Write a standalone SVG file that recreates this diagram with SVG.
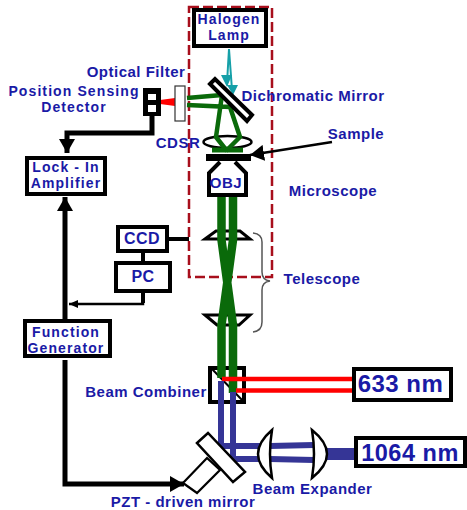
<svg xmlns="http://www.w3.org/2000/svg" width="467" height="510" viewBox="0 0 467 510">
<style>
.t{font-family:"Liberation Sans",Arial,sans-serif;font-weight:bold;fill:#1a1aa6;font-size:15px;letter-spacing:.5px;text-anchor:middle}
.two{font-size:14px;letter-spacing:1.1px}
.big{font-size:24px;letter-spacing:.5px}
.box{fill:#fff;stroke:#000;stroke-width:4}
.g{fill:none;stroke:#0a6a0a}
.r{stroke:#f00;stroke-width:4.5;fill:none}
.b{fill:none;stroke:#353596;stroke-width:6}
.k{fill:none;stroke:#000}
.l{fill:#fff;stroke:#000;stroke-width:2.5}
</style>
<defs>
<marker id="ah" markerUnits="userSpaceOnUse" markerWidth="16" markerHeight="16" refX="14" refY="8" orient="auto"><path d="M0,0L14,8L0,16Z" fill="#000"/></marker>
<marker id="as" markerUnits="userSpaceOnUse" markerWidth="10" markerHeight="10" refX="9" refY="5" orient="auto"><path d="M0,1L9,5L0,9Z" fill="#000"/></marker>
</defs>
<g id="microscope-frame"><rect x="189" y="7" width="83" height="270" fill="none" stroke="#a80f1c" stroke-width="2.5" stroke-dasharray="10 4"/></g>
<g id="cdsr"><ellipse cx="227.500" cy="142" rx="24" ry="6" fill="none" stroke="#000" stroke-width="2.500"/><text class="t" x="178" y="148">CDSR</text></g>
<g id="telescope-lens-1"><path d="M205,239L216,231H240L250,239Z" fill="#fff" stroke="#000" stroke-width="3"/></g>
<g id="telescope-lens-2"><path d="M205,315L217,325H239L250,315Z" fill="#fff" stroke="#000" stroke-width="3"/></g>
<g id="beam-combiner"><rect x="210" y="368" width="34" height="34" fill="#fff" stroke="#000" stroke-width="4"/><path class="k" stroke-width="2" d="M212,369L243,401"/><text class="t" x="146" y="397">Beam Combiner</text></g>
<g id="connectors">
<path class="k" stroke-width="5" d="M152,114V133H67V153" marker-end="url(#ah)"/>
<path class="k" stroke-width="5" d="M65,320V197" marker-end="url(#ah)"/>
<path class="k" stroke-width="5" d="M65,360V484H184" marker-end="url(#ah)"/>
<path class="k" stroke-width="4" d="M143,293V303"/>
<path class="k" stroke-width="2.500" d="M143,303V304H69" marker-end="url(#as)"/>
<path class="k" stroke-width="4" d="M143,253V261M169,239H189"/>
<path class="k" stroke-width="2.500" d="M332,142L250,155" marker-end="url(#ah)"/>
<path d="M229,49L227,83M229,49L232,90" fill="none" stroke="#16a0a8" stroke-width="2"/>
<path d="M221,75L227,87L232,75ZM227,85L233,95L238,85Z" fill="#16a0a8"/>
<path class="g" stroke-width="4.500" d="M187,98L222,95L216,137L227,151M187,105L230,107L240,137L226,151"/>
<path class="g" stroke-width="5" d="M212,150H243"/>
<path class="g" stroke-width="8.500" d="M221.500,195V240L233,325V393M233,195V240L221.500,325V378"/>
<path class="r" d="M222,379H354M236,390.500H354"/>
<path d="M160,100L175,98V106L160,104Z" fill="#f00"/>
<path class="b" d="M221,381V446H262M233,392V459H262"/>
<path class="b" d="M270,446L314,445M270,459L314,460"/>
<path fill="none" stroke="#353596" stroke-width="12" d="M325,454H356"/>
<path fill="none" stroke="#555" stroke-width="1.500" d="M253,233Q262,234 262,242V272Q262,280 270,281Q262,282 262,290V322Q262,331 253,332"/>
</g>
<g id="halogen-lamp"><rect class="box" x="194" y="10" width="72" height="36"/><text class="t two" x="229" y="23.500">Halogen</text><text class="t two" x="229" y="40">Lamp</text></g>
<g id="dichromatic-mirror"><path d="M210,84L215,79L252,115L247,121Z" fill="#fff" stroke="#000" stroke-width="4"/><text class="t" x="313" y="101">Dichromatic Mirror</text></g>
<g id="optical-filter"><rect x="175" y="86" width="10" height="35" fill="#fff" stroke="#333" stroke-width="1.200"/><text class="t" x="136" y="77">Optical Filter</text></g>
<g id="detector"><rect x="143" y="88" width="18" height="28" fill="#000"/><rect x="148" y="94" width="8" height="6" fill="#fff"/><rect x="148" y="105" width="8" height="7" fill="#fff"/><text class="t two" x="74" y="95.500">Position Sensing</text><text class="t two" x="74" y="112">Detector</text></g>
<g id="sample"><rect x="206" y="154" width="45" height="7" fill="#000"/><text class="t" x="356" y="139">Sample</text></g>
<g id="objective"><path d="M220,162L209,173V195H246V173L235,162" fill="#fff" stroke="#000" stroke-width="4"/><text class="t" x="226" y="188">OBJ</text></g>
<g id="lock-in"><rect class="box" x="27" y="158" width="78" height="36"/><text class="t two" x="66" y="171.500">Lock - In</text><text class="t two" x="66" y="188">Amplifier</text></g>
<g id="ccd"><rect class="box" x="118" y="227" width="49" height="24"/><text class="t" x="142" y="244" style="font-size:16px">CCD</text></g>
<g id="pc"><rect class="box" x="116" y="263" width="54" height="28"/><text class="t" x="143" y="282" style="font-size:16px">PC</text></g>
<g id="function-generator"><rect class="box" x="25" y="321" width="85" height="35"/><text class="t two" x="66" y="336.500">Function</text><text class="t two" x="66" y="353">Generator</text></g>
<g id="telescope-label"><text class="t" x="322" y="284">Telescope</text></g>
<g id="microscope-label"><text class="t" x="333" y="196">Microscope</text></g>
<g id="laser-633"><rect class="box" x="354" y="369" width="97" height="31"/><text class="t big" x="400.500" y="392">633 nm</text></g>
<g id="laser-1064"><rect class="box" x="356" y="438" width="109" height="28"/><text class="t big" x="410" y="460.500" style="font-size:23.500px">1064 nm</text></g>
<g id="pzt-mirror"><path d="M183,483L207,458L220,470L197,493Z" fill="#fff" stroke="#000" stroke-width="2.200"/><path d="M197,443L208,433L245,472L233,482Z" fill="#fff" stroke="#000" stroke-width="2.500"/><text class="t" x="183" y="507">PZT - driven mirror</text></g>
<g id="beam-expander"><path d="M272,430Q244,454 272,478Q268,454 272,430Z" class="l"/><path d="M312,430Q342,454 312,478Q316,454 312,430Z" class="l"/><text class="t" x="312.500" y="494">Beam Expander</text></g>
</svg>
